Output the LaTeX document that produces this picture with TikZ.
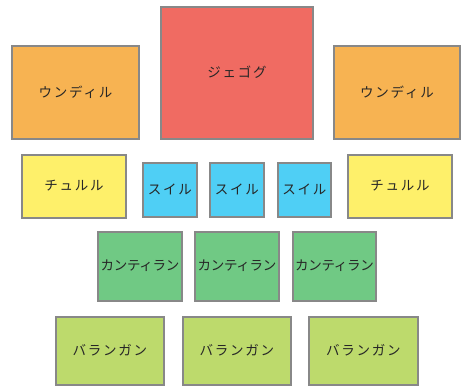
\documentclass[tikz,border=0pt]{standalone}
\usepackage{fontspec}
\setmainfont{Noto Sans CJK JP}
\definecolor{cred}{HTML}{F06B62}
\definecolor{corange}{HTML}{F7B352}
\definecolor{cyellow}{HTML}{FEF06A}
\definecolor{cblue}{HTML}{4FCFF5}
\definecolor{cgreen}{HTML}{70C984}
\definecolor{clime}{HTML}{BDDA6C}
\definecolor{cborder}{HTML}{888888}
\begin{document}
\begin{tikzpicture}[x=1pt,y=-1pt,
  blk/.style={draw=cborder,line width=1.6pt,inner sep=0pt,font=\addfontfeature{LetterSpace=13}\fontsize{13.5}{15}\selectfont,text=black!85},
  tight/.style={font=\addfontfeature{LetterSpace=-2}\fontsize{13.5}{15}\selectfont}]
\useasboundingbox (0,0) rectangle (461,388);
\newcommand\blkbox[8]{%
  \node[blk,fill=#2,minimum width=#5-#3,minimum height=#6-#4,#1] (#8) at ({(#3+#5)/2},{(#4+#6)/2}) {\raisebox{2.5pt}{#7}};}
\blkbox{}{corange}{12}{46}{139}{139}{ウンディル}{u1}
\blkbox{}{cred}{161}{7}{313}{139}{ジェゴグ}{j}
\blkbox{}{corange}{334}{46}{460}{139}{ウンディル}{u2}
\blkbox{}{cyellow}{22}{155}{126}{218}{チュルル}{c1}
\blkbox{}{cblue}{143}{163}{197}{217}{スイル}{s1}
\blkbox{}{cblue}{210}{163}{264}{217}{スイル}{s2}
\blkbox{}{cblue}{278}{163}{331}{217}{スイル}{s3}
\blkbox{}{cyellow}{348}{155}{452}{218}{チュルル}{c2}
\blkbox{tight}{cgreen}{98}{232}{182}{301}{カンティラン}{k1}
\blkbox{tight}{cgreen}{195}{232}{279}{301}{カンティラン}{k2}
\blkbox{tight}{cgreen}{293}{232}{376}{301}{カンティラン}{k3}
\blkbox{}{clime}{56}{317}{164}{385}{バランガン}{b1}
\blkbox{}{clime}{183}{317}{291}{385}{バランガン}{b2}
\blkbox{}{clime}{309}{317}{418}{385}{バランガン}{b3}
\end{tikzpicture}
\end{document}
